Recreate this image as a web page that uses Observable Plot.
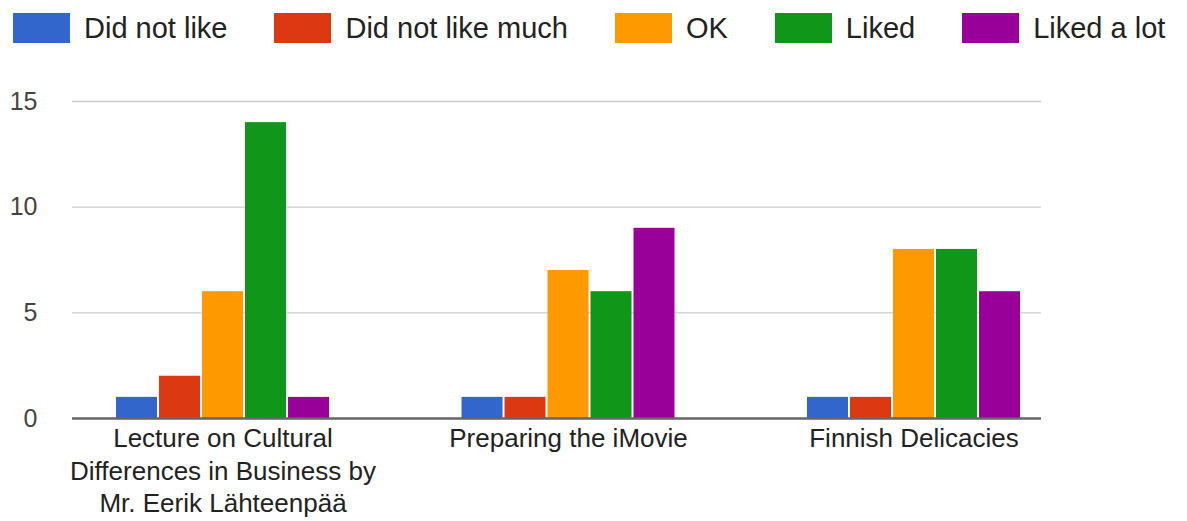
<!DOCTYPE html>
<html><head><meta charset="utf-8">
<script src="https://cdn.jsdelivr.net/npm/d3@7"></script>
<script src="https://cdn.jsdelivr.net/npm/@observablehq/plot@0.6"></script>
<style>
body{margin:0;background:#fff;font-family:Arial,"Liberation Sans",sans-serif;}
#wrap{position:relative;width:1187px;height:521px;}
#legend{position:absolute;top:13px;left:13px;display:flex;align-items:center;height:30px;}
.item{display:flex;align-items:center;margin-right:47px;}
.sw{width:57px;height:30px;margin-right:14px;}
.lab{font-size:29px;color:#222;line-height:30px;white-space:nowrap;}
#chart{position:absolute;left:0;top:60px;width:1187px;height:461px;}
#chart svg{position:absolute;left:0;top:0;}
</style>
</head><body>
<div id="wrap"><div id="legend"></div><div id="chart"></div></div>
<script>
const categories = ["Lecture on Cultural Differences in Business by Mr. Eerik Lähteenpää", "Preparing the iMovie", "Finnish Delicacies"];
const tickLabels = ["Lecture on Cultural\nDifferences in Business by\nMr. Eerik Lähteenpää", "Preparing the iMovie", "Finnish Delicacies"];
const series = ["Did not like", "Did not like much", "OK", "Liked", "Liked a lot"];
const colors = ["#3366cc", "#dc3912", "#ff9900", "#109618", "#990099"];
const didNotLike = [1, 1, 1];
const didNotLikeMuch = [2, 1, 1];
const ok = [6, 7, 8];
const liked = [14, 6, 8];
const likedALot = [1, 9, 6];
const yTicks = [0, 5, 10, 15];

const seriesValues = [didNotLike, didNotLikeMuch, ok, liked, likedALot];
const data = [];
categories.forEach((g, i) => series.forEach((s, j) => data.push({group: g, series: s, value: seriesValues[j][i]})));

// legend
const legend = document.getElementById("legend");
series.forEach((s, j) => {
  const it = document.createElement("div"); it.className = "item";
  const sw = document.createElement("div"); sw.className = "sw"; sw.style.background = colors[j];
  const lb = document.createElement("span"); lb.className = "lab"; lb.textContent = s;
  it.append(sw, lb); legend.append(it);
});

const common = {
  width: 1187, height: 461,
  marginLeft: 72, marginRight: 146, marginTop: 41, marginBottom: 103
};
const font = {fontFamily: "Arial, 'Liberation Sans', sans-serif", fontSize: "25px", overflow: "visible"};

const chart = document.getElementById("chart");

// back layer: y axis + grid
const back = Plot.plot({
  ...common,
  style: {...font, color: "#444", background: "white"},
  y: {domain: [0, 15], ticks: yTicks, tickSize: 0, tickPadding: 35, label: null},
  marks: [
    Plot.ruleY(yTicks.filter(t => t > 0), {stroke: "#cccccc", strokeWidth: 1.4})
  ]
});
chart.append(back);

// middle layer: grouped bars + category labels
const mid = Plot.plot({
  ...common,
  style: {...font, fontSize: "26px", color: "#222", background: "transparent"},
  fx: {domain: categories, paddingInner: 0.3835, paddingOuter: 0.0941, align: 0.677, round: false, axis: null, label: null},
  x: {domain: series, paddingInner: 0.0465, paddingOuter: 0, round: false, axis: null},
  y: {domain: [0, 15], axis: null},
  color: {domain: series, range: colors},
  marks: [
    Plot.barY(data, {fx: "group", x: "series", y: "value", fill: "series"}),
    Plot.axisFx({anchor: "bottom", tickSize: 0, tickPadding: 6, lineHeight: 1.24, label: null,
      tickFormat: d => tickLabels[categories.indexOf(d)]})
  ]
});
chart.append(mid);

// front layer: baseline
const front = Plot.plot({
  ...common,
  style: {...font, background: "transparent"},
  y: {domain: [0, 15], axis: null},
  marks: [Plot.ruleY([0], {stroke: "#666", strokeWidth: 2.5})]
});
chart.append(front);
</script>
</body></html>
